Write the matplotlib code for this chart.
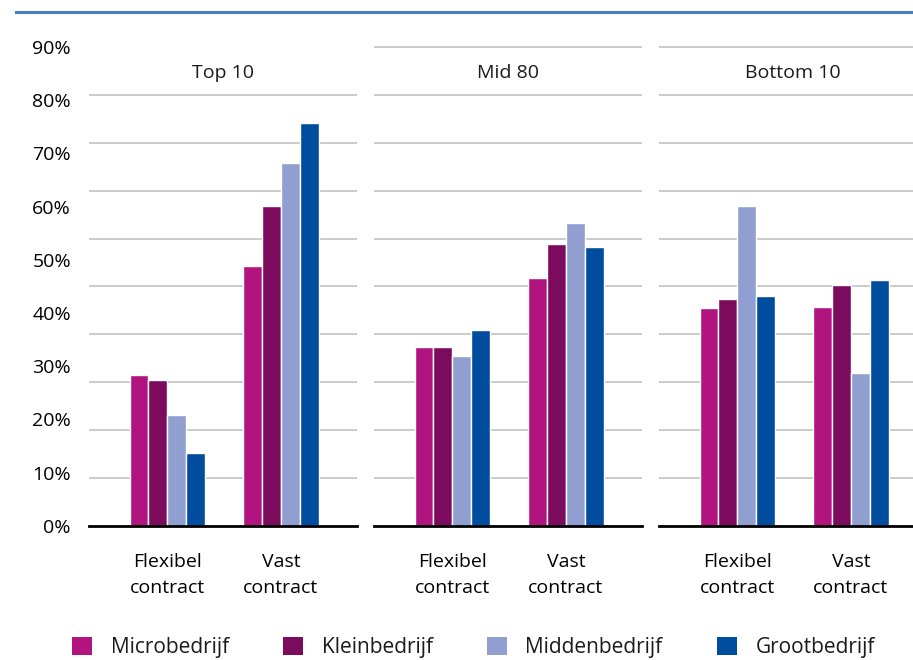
import numpy as np
import matplotlib
matplotlib.use("Agg")
import matplotlib.pyplot as plt
from matplotlib.patches import Patch
from matplotlib.lines import Line2D


# ── Data ──────────────────────────────────────────────────────────────────────
panels = ["Top 10", "Mid 80", "Bottom 10"]
contracts = ["Flexibel\ncontract", "Vast\ncontract"]
sizes = ["Microbedrijf", "Kleinbedrijf", "Middenbedrijf", "Grootbedrijf"]

# share (%) per panel -> [flexibel, vast] per company size
micro = [[31.4, 54.3], [37.4, 51.8], [45.4, 45.8]]
klein = [[30.5, 66.7], [37.4, 58.8], [47.4, 50.4]]
midden = [[23.1, 75.7], [35.4, 63.3], [66.8, 32.0]]
groot = [[15.1, 84.1], [40.9, 58.3], [47.9, 51.3]]

ytick_labels = ["0%", "10%", "20%", "30%", "40%", "50%", "60%", "70%", "80%", "90%"]

# ── Style ─────────────────────────────────────────────────────────────────────
colors = ["#B1147F", "#7C0B5D", "#909ED0", "#004C9E"]
FONT = "Open Sans"
FS = 14
plt.rcParams["font.family"] = [FONT, "DejaVu Sans"]
plt.rcParams["text.color"] = "#1a1a1a"

W, H = 913, 660
fig = plt.figure(figsize=(W / 100, H / 100), dpi=100)

# top accent line
fig.add_artist(Line2D([16 / W, 1.0], [1 - 12 / H, 1 - 12 / H],
                      color="#4A7EC1", lw=2.2, transform=fig.transFigure))

bottom = 1 - 525.7 / H
height = 480 / H
lefts = [89, 374, 659]
pw = 268

series = [micro, klein, midden, groot]
bw = 1 / 6
x = np.arange(len(contracts))

for p, (name, left) in enumerate(zip(panels, lefts)):
    ax = fig.add_axes([left / W, bottom, pw / W, height])
    for s, (vals, c) in enumerate(zip(series, colors)):
        ax.bar(x + (s - 1.5) * bw, vals[p], width=bw, color=c,
               edgecolor="white", linewidth=1.0, zorder=3)
    ax.set_xlim(-0.69, 1.67)
    ax.set_ylim(0, 100.3)

    ax.set_yticks(np.arange(0, 101, 10), minor=True)
    ax.grid(which="minor", axis="y", color="#c2c2c2", lw=1.2, zorder=0)
    ax.grid(which="major", visible=False)
    ax.set_axisbelow(True)
    if p == 0:
        ax.set_yticks(np.linspace(0, 100, 10))
        ax.set_yticklabels(ytick_labels, fontsize=FS)
    else:
        ax.set_yticks([])
    ax.tick_params(axis="y", which="both", length=0, pad=13)

    ax.set_xticks(x)
    ax.set_xticklabels(contracts, fontsize=FS, linespacing=1.55)
    ax.tick_params(axis="x", length=0, pad=20)

    for sp in ["top", "left", "right"]:
        ax.spines[sp].set_visible(False)
    ax.spines["bottom"].set_linewidth(2)
    ax.spines["bottom"].set_color("black")
    ax.spines["bottom"].set_zorder(4)

    ax.text(0.5, 94.5, name, transform=ax.get_yaxis_transform(),
            ha="center", va="center", fontsize=FS)

handles = [Patch(facecolor=c, edgecolor="none") for c in colors]
fig.legend(handles, sizes, loc="center", bbox_to_anchor=(473.5 / W, 1 - 647.5 / H),
           ncol=4, frameon=False, fontsize=FS + 1, handlelength=0.95,
           handleheight=0.95, handletextpad=0.9, columnspacing=2.6, borderpad=0)

fig.savefig("out.png", dpi=100)
